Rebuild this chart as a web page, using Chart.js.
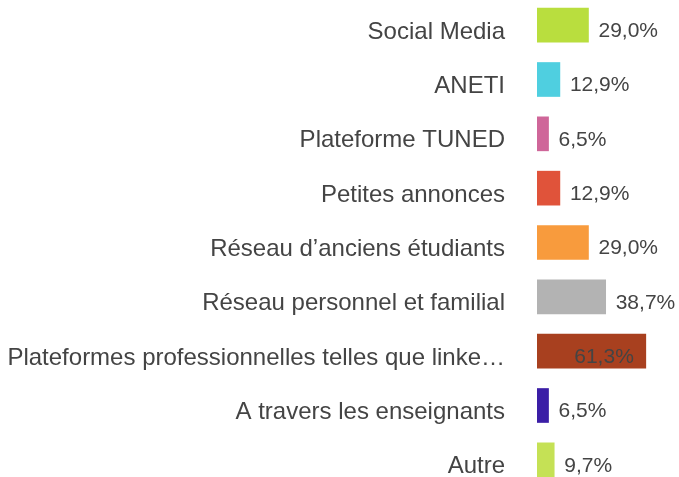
<!DOCTYPE html>
<html>
<head>
<meta charset="utf-8">
<script src="https://cdn.jsdelivr.net/npm/chart.js@4/dist/chart.umd.min.js"></script>
<style>
html,body{margin:0;padding:0;background:#fff;overflow:hidden;width:679px;height:477px;}
#c{position:absolute;left:0;top:-2px;}
</style>
</head>
<body>
<canvas id="c" width="679" height="489"></canvas>
<script>
const categories = [
  "Social Media",
  "ANETI",
  "Plateforme TUNED",
  "Petites annonces",
  "Réseau d’anciens étudiants",
  "Réseau personnel et familial",
  "Plateformes professionnelles telles que linke…",
  "A travers les enseignants",
  "Autre"
];
const values = [29.0, 12.9, 6.5, 12.9, 29.0, 38.7, 61.3, 6.5, 9.7];
const valueLabels = ["29,0%", "12,9%", "6,5%", "12,9%", "29,0%", "38,7%", "61,3%", "6,5%", "9,7%"];
const barColors = ["#b9de3e", "#4fcfe0", "#cf6699", "#e0533a", "#f89b3d", "#b3b3b3", "#a8401f", "#3b1ea6", "#c5e155"];

const FONT = '"Liberation Sans", Arial, sans-serif';
const TEXT = '#444444';

const valuePlugin = {
  id: 'valueLabels',
  afterDatasetsDraw(chart) {
    const ctx = chart.ctx;
    const meta = chart.getDatasetMeta(0);
    ctx.save();
    ctx.font = '21px ' + FONT;
    ctx.fillStyle = TEXT;
    ctx.textBaseline = 'middle';
    meta.data.forEach((bar, i) => {
      const v = values[i];
      if (v > 50) {
        ctx.textAlign = 'right';
        ctx.fillText(valueLabels[i], bar.x - 12, bar.y + 6);
      } else {
        ctx.textAlign = 'left';
        ctx.fillText(valueLabels[i], bar.x + 10, bar.y + 6);
      }
    });
    ctx.restore();
  }
};

new Chart(document.getElementById('c'), {
  type: 'bar',
  data: {
    labels: categories,
    datasets: [{
      data: values,
      backgroundColor: barColors,
      borderWidth: 0,
      barThickness: 34
    }]
  },
  options: {
    indexAxis: 'y',
    responsive: false,
    maintainAspectRatio: false,
    animation: false,
    layout: { padding: 0 },
    plugins: { legend: { display: false }, tooltip: { enabled: false } },
    scales: {
      x: { display: false, min: 0, max: 80 },
      y: {
        afterFit(scale) { scale.width = 537; scale.paddingTop = 0; scale.paddingBottom = 0; },
        grid: { display: false, drawTicks: false },
        border: { display: false },
        ticks: {
          color: TEXT,
          font: { family: FONT, size: 24 },
          padding: 32,
          labelOffset: 7,
          autoSkip: false
        }
      }
    }
  },
  plugins: [valuePlugin]
});
</script>
</body>
</html>
